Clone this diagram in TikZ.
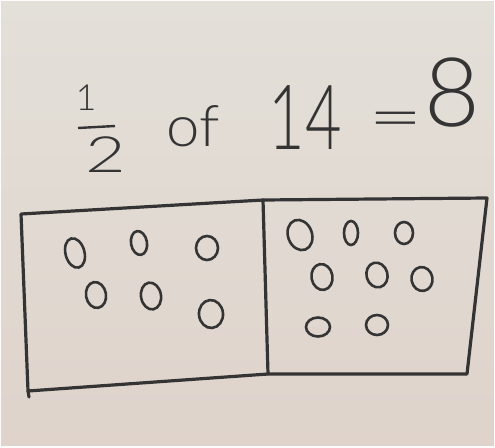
\documentclass[tikz,border=0pt]{standalone}
\usepackage{fontspec}
\newfontfamily\hand{Lato Light}
\definecolor{paper}{RGB}{227,224,217}
\definecolor{paperlow}{RGB}{223,211,203}
\definecolor{ink}{RGB}{52,52,52}
\begin{document}
\begin{tikzpicture}[x=1pt,y=-1pt,
 inkline/.style={draw=ink,line width=3.2pt,line join=round,line cap=round},
 dot/.style={draw=ink,line width=2.6pt},
 num/.style={text=ink,inner sep=0pt,anchor=base}]
\useasboundingbox (0,0) rectangle (495,447);
\shade[top color=paper,bottom color=paperlow] (0,0) rectangle (495,447);
\draw[white!92!paper,line width=2pt] (0,0) rectangle (495,447);
% the sum
\node[num,font=\hand\fontsize{36}{36}\selectfont] (one) at (86,110) {1};
\node[num,font=\hand\fontsize{50}{50}\selectfont] (two) at (106,172) {\scalebox{1.4}[1]{2}};
\coordinate (barl) at (78,128);
\coordinate (barr) at (115,126);
\draw[draw=ink,line width=2.4pt] (barl) -- (barr);
\node[num,font=\hand\fontsize{52}{52}\selectfont] (of) at (193,146) {\scalebox{1.15}[1.1]{of}};
\node[num,font=\hand\fontsize{90}{90}\selectfont] (fourteen) at (305,149) {\scalebox{0.7}[1]{14}};
\node[num,font=\hand\fontsize{70}{70}\selectfont] (eq) at (396,139) {\scalebox{1.35}[0.9]{=}};
\node[num,font=\hand\fontsize{96}{96}\selectfont] (eight) at (452,126) {8};
% the two halves
\coordinate (tl) at (21,214);
\coordinate (tm) at (263,200);
\coordinate (tr) at (487,198);
\coordinate (br) at (467,374);
\coordinate (bm) at (268,374);
\coordinate (bl) at (28,391);
\draw[inkline] (tl) -- (tm) -- (tr) -- (br) -- (bm) -- (bl) -- cycle;
\draw[inkline] (tm) -- (bm);
\draw[inkline] (bl) -- ++(1,6);
% seven in each half
\foreach \x/\y/\a/\b/\r in {75/253/9.5/15/15, 139/243/8/12/10, 207/248/11/12/0,
  96/295/10/13/10, 151/296/10/13.5/10, 211/314/12/14/5,
  300/235/12/15.5/20, 351/233/7/12/0, 404/233/9/11/0,
  322/277/10.5/13/10, 377/275/10.5/12.5/15, 422/279/10.5/12/10,
  318/327/12/9.5/0, 377/325/11/10/0}
  \draw[dot,shift={(\x,\y)},rotate=\r] (0,0) ellipse [x radius=\a, y radius=\b];
\end{tikzpicture}
\end{document}
